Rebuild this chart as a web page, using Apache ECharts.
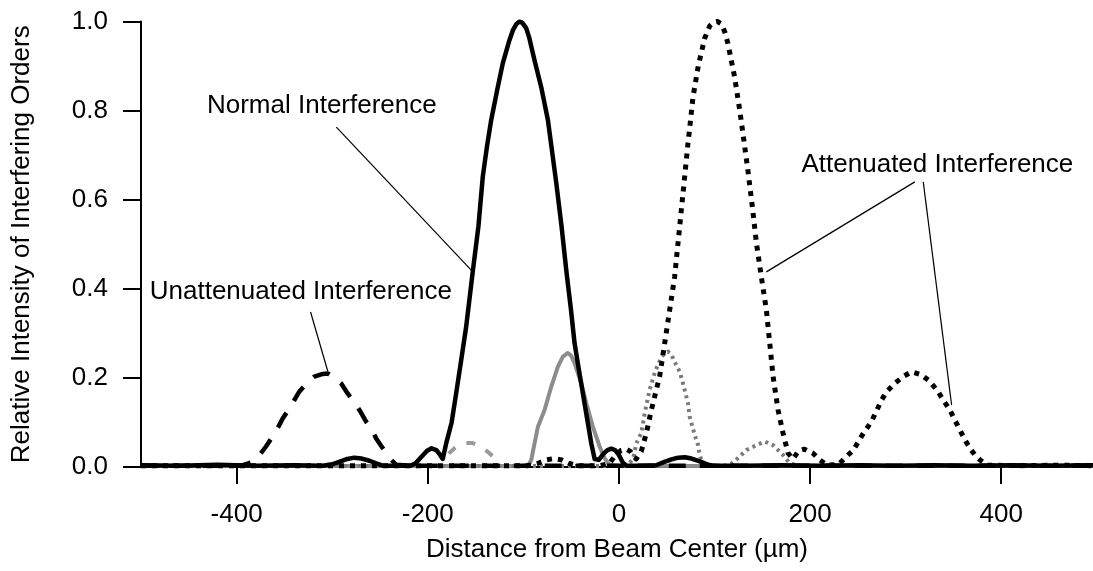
<!DOCTYPE html>
<html>
<head>
<meta charset="utf-8">
<script src="https://cdn.jsdelivr.net/npm/echarts@6/dist/echarts.min.js"></script>
<style>
html,body{margin:0;padding:0;background:#fff;}
#chart{width:1093px;height:571px;}
</style>
</head>
<body>
<div id="chart"></div>
<script>
// ---------- data ----------
const xTicks = [-400, -200, 0, 200, 400];
const yTicks = [0, 0.2, 0.4, 0.6, 0.8, 1.0];

// Normal Interference (solid black)
const normalX = [-500,-460,-420,-380,-340,-310,-300,-292,-284,-277,-269,-261,-254,-247,-232,-218,-213,-207,-201,-196,-191,-187,-184.3,-180.7,-175,-170.3,-165,-159.8,-152.9,-147,-142.4,-138,-133.6,-127,-121.5,-115,-111,-107,-104,-101,-97,-94,-88.3,-81,-74.3,-70,-65.5,-60,-55.1,-50,-46.4,-42,-37.7,-33,-28.9,-25.4,-21,-16,-12,-8,-4,0,4,8,25,39,47,55,62,69,76,84,91,97,130,170,210,250,290,330,370,410,450,496];
const normalY = [0.004,0.003,0.005,0.003,0.004,0.003,0.006,0.012,0.018,0.021,0.019,0.014,0.008,0.003,0.003,0.003,0.008,0.022,0.036,0.042,0.038,0.027,0.018,0.053,0.1,0.165,0.24,0.315,0.439,0.54,0.652,0.72,0.779,0.85,0.906,0.955,0.98,0.995,1.0,0.997,0.985,0.965,0.913,0.85,0.779,0.71,0.637,0.54,0.442,0.35,0.278,0.22,0.165,0.105,0.053,0.018,0.016,0.03,0.038,0.041,0.038,0.027,0.01,0.003,0.003,0.004,0.011,0.017,0.021,0.022,0.019,0.013,0.007,0.003,0.003,0.004,0.003,0.004,0.003,0.004,0.003,0.004,0.003,0.004];

// Attenuated Interference (dotted black)
const attenX = [-500,-420,-340,-260,-200,-140,-95,-85,-76,-68,-60,-52,-44,-20,-10,-4,2,7.7,12,18,23.4,28.7,33.9,42.6,47.9,53.1,58.3,61.8,65.3,68.8,72.3,74,77.5,83,89.7,95,99,103,107,110.7,114,121,126.4,130,135,140,143.9,149,154.3,157.8,161.3,166.5,171.7,177,182,188,194,203,210,218,230,236.3,245.3,255.8,264.3,267.7,274.8,280,288.7,297.4,306.2,316.6,325.3,334,339.3,346.3,351.5,356.8,362,367.2,372.5,377.7,385,420,460,496];
const attenY = [0.003,0.003,0.003,0.003,0.003,0.003,0.003,0.008,0.016,0.019,0.016,0.008,0.003,0.003,0.008,0.025,0.037,0.04,0.035,0.018,0.035,0.076,0.128,0.203,0.278,0.352,0.427,0.502,0.577,0.652,0.727,0.76,0.83,0.9,0.962,0.99,0.998,1.0,0.995,0.977,0.951,0.876,0.801,0.745,0.665,0.577,0.502,0.427,0.352,0.278,0.203,0.128,0.076,0.031,0.018,0.036,0.04,0.031,0.016,0.004,0.006,0.02,0.038,0.076,0.102,0.118,0.15,0.169,0.188,0.203,0.214,0.207,0.192,0.169,0.15,0.128,0.105,0.083,0.061,0.042,0.027,0.016,0.004,0.003,0.004,0.003];

// Unattenuated Interference (dashed black)
const unattenX = [-500,-460,-420,-395,-385,-378,-374.5,-369.2,-362,-355.3,-351.8,-345,-339.6,-334.4,-326,-318.6,-309.9,-304.6,-297,-290.7,-283.8,-277,-271.5,-264.5,-258,-254,-247,-240,-233,-220,-150,-50,50,150,250,350,450,496];
const unattenY = [0.003,0.003,0.003,0.003,0.01,0.022,0.031,0.046,0.07,0.094,0.109,0.13,0.15,0.169,0.19,0.203,0.209,0.21,0.2,0.188,0.165,0.146,0.128,0.102,0.083,0.064,0.042,0.02,0.005,0.003,0.003,0.003,0.003,0.003,0.003,0.003,0.003,0.003];

// gray solid curve (main lobe)
const graySolidX = [-500,-300,-200,-120,-100,-94,-91.7,-84.8,-77.8,-70.8,-63.9,-58.6,-53.4,-50,-46.4,-39.4,-34.1,-27.2,-20.2,-15,-10,0,100,200,300,400,496];
const graySolidY = [0.002,0.002,0.002,0.002,0.003,0.006,0.016,0.09,0.128,0.18,0.225,0.248,0.256,0.25,0.233,0.188,0.143,0.09,0.046,0.02,0.005,0.003,0.002,0.002,0.002,0.002,0.002];
// gray solid curve, faint side lobe (broken in the print)
const graySideX = [-178,-172,-166,-160,-154,-148,-142,-136,-130];
const graySideY = [0.03,0.042,0.05,0.054,0.054,0.05,0.042,0.032,0.02];

// gray dotted curve
const grayDotX = [-500,-200,0,10,15,18.2,23.4,26.9,32.1,38,44,48,51.3,55,58.3,63.6,67,72.3,74,79.3,82.8,84.5,86.3,92,110,118,124.6,133.4,143.9,152.6,161.3,166.5,171.7,178,186,300,496];
const grayDotY = [0.002,0.002,0.002,0.005,0.02,0.053,0.076,0.12,0.173,0.215,0.245,0.256,0.259,0.252,0.236,0.214,0.188,0.143,0.113,0.072,0.049,0.027,0.016,0.004,0.003,0.008,0.02,0.038,0.049,0.057,0.049,0.038,0.027,0.01,0.003,0.002,0.002];

// annotations (data coordinates)
const annoTexts = [
  {text: 'Normal Interference', at: [-310.8, 0.81]},
  {text: 'Unattenuated Interference', at: [-332.8, 0.393]},
  {text: 'Attenuated Interference', at: [333.2, 0.678]}
];
const leaderLines = [
  [[-295.6, 0.763], [-152.8, 0.438]],
  [[-322.6, 0.348], [-304.6, 0.215]],
  [[309.6, 0.64], [154.3, 0.438]],
  [[318.4, 0.64], [348.1, 0.139]]
];

// ---------- chart ----------
const FONT = '"Liberation Sans", Arial, Helvetica, sans-serif';
const zip = (xs, ys) => xs.map((x, i) => [x, ys[i]]);

const chart = echarts.init(document.getElementById('chart'), null, {renderer: 'canvas'});

function lineSeries(name, xs, ys, color, width, type) {
  return {
    name, type: 'line', data: zip(xs, ys),
    showSymbol: false, symbol: 'none',
    smooth: false,
    lineStyle: {color, width, type, cap: 'butt', join: 'round'},
    silent: true
  };
}

chart.setOption({
  animation: false,
  backgroundColor: '#fff',
  grid: {left: 141, right: 0, top: 21.5, bottom: 104, containLabel: false, outerBoundsMode: 'none'},
  xAxis: {
    type: 'value', min: -500, max: 496,
    axisLine: {show: true, onZero: false, lineStyle: {color: '#000', width: 2}},
    axisTick: {show: true, length: 17, lineStyle: {color: '#000', width: 2}, customValues: xTicks},
    axisLabel: {customValues: xTicks, margin: 35, fontSize: 26, color: '#000', fontFamily: FONT},
    splitLine: {show: false},
    name: 'Distance from Beam Center (µm)',
    nameLocation: 'middle', nameGap: 70, nameMoveOverlap: false,
    nameTextStyle: {fontSize: 26, color: '#000', fontFamily: FONT}
  },
  yAxis: {
    type: 'value', min: 0, max: 1, interval: 0.2,
    axisLine: {show: true, onZero: false, lineStyle: {color: '#000', width: 2}},
    axisTick: {show: true, length: 18, lineStyle: {color: '#000', width: 2}},
    axisLabel: {margin: 33, fontSize: 26, color: '#000', fontFamily: FONT,
      customValues: yTicks, formatter: v => v.toFixed(1)},
    splitLine: {show: false},
    name: 'Relative Intensity of Interfering Orders',
    nameLocation: 'middle', nameGap: 106, nameRotate: 90, nameMoveOverlap: false,
    nameTextStyle: {fontSize: 26, color: '#000', fontFamily: FONT}
  },
  series: [
    lineSeries('Gray solid', graySolidX, graySolidY, '#8c8c8c', 4, 'solid'),
    lineSeries('Gray solid side lobe', graySideX, graySideY, '#9a9a9a', 4, [9, 12]),
    lineSeries('Gray dotted', grayDotX, grayDotY, '#7a7a7a', 4, [3, 4]),
    lineSeries('Unattenuated Interference', unattenX, unattenY, '#000', 4.5, [17, 14]),
    lineSeries('Attenuated Interference', attenX, attenY, '#000', 5, [5, 6]),
    lineSeries('Normal Interference', normalX, normalY, '#000', 4.5, 'solid')
  ]
});

// annotations placed through the chart's own coordinate system
const px = p => chart.convertToPixel({gridIndex: 0}, p);
const graphics = [];
leaderLines.forEach(seg => {
  const a = px(seg[0]), b = px(seg[1]);
  graphics.push({type: 'line', shape: {x1: a[0], y1: a[1], x2: b[0], y2: b[1]},
    style: {stroke: '#000', lineWidth: 1.2}, z: 100, silent: true});
});
annoTexts.forEach(t => {
  const p = px(t.at);
  graphics.push({type: 'text', x: p[0], y: p[1], z: 100, silent: true,
    style: {text: t.text, fill: '#000', font: '26px ' + FONT, align: 'center', verticalAlign: 'middle'}});
});
chart.setOption({graphic: graphics});
</script>
</body>
</html>
